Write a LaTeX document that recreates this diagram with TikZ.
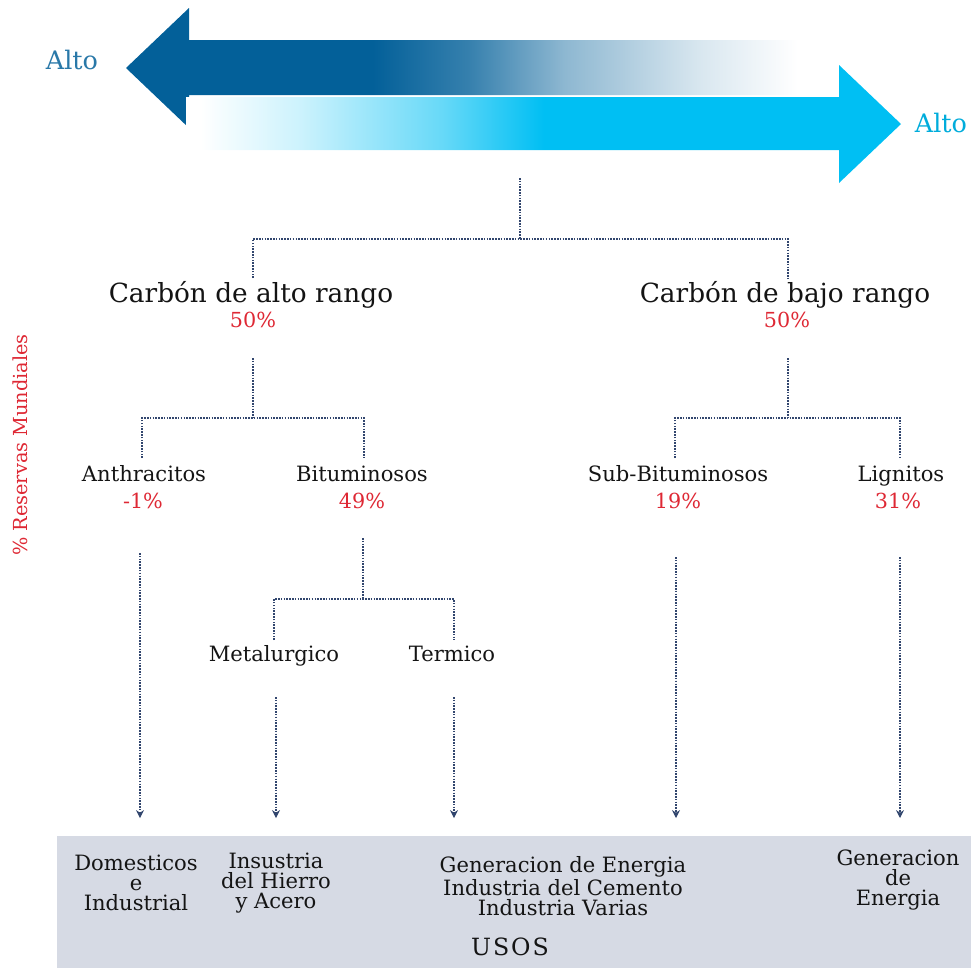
\documentclass[tikz,border=0pt]{standalone}
\usepackage{fontspec}
\setmainfont{DejaVu Serif}
\usetikzlibrary{arrows.meta}
\definecolor{dkb}{RGB}{3,96,153}
\definecolor{ltb}{RGB}{0,191,243}
\definecolor{redt}{RGB}{222,40,52}
\definecolor{lc}{RGB}{50,70,110}
\definecolor{boxc}{RGB}{214,218,228}
\definecolor{txt}{RGB}{20,20,20}
\colorlet{dkA}{dkb!80!white}
\colorlet{dkB}{dkb!45!white}
\colorlet{dkC}{dkb!15!white}
\colorlet{ltA}{ltb!20!white}
\colorlet{ltB}{ltb!60!white}
\pgfdeclarehorizontalshading{dkfade}{100bp}{color(0bp)=(dkb); color(25bp)=(dkb); color(43bp)=(dkb); color(50bp)=(dkA); color(57bp)=(dkB); color(67bp)=(dkC); color(74bp)=(white); color(100bp)=(white)}
\pgfdeclarehorizontalshading{ltfade}{100bp}{color(0bp)=(white); color(25bp)=(white); color(26bp)=(white); color(33bp)=(ltA); color(43bp)=(ltB); color(50bp)=(ltb); color(75bp)=(ltb); color(100bp)=(ltb)}
\begin{document}
\begin{tikzpicture}[x=0.02cm,y=-0.02cm,
  big/.style={inner sep=0pt,anchor=base,text=txt,font=\fontsize{15}{17}\selectfont},
  lab/.style={inner sep=0pt,anchor=base,text=txt,font=\fontsize{12}{14}\selectfont},
  pct/.style={inner sep=0pt,anchor=base,text=redt,font=\fontsize{11.8}{14}\selectfont},
  use/.style={inner sep=0pt,text=txt,align=center,font=\fontsize{12}{11.4}\selectfont},
  dl/.style={draw=lc,line width=0.6pt,dash pattern=on 0.9pt off 0.7pt},
  da/.style={dl,-{Stealth[length=4.5pt,width=4.5pt]}}]
\useasboundingbox (0,0) rectangle (971,968);
% arrows
\shade[shading=dkfade] (126,68) -- (189,8) -- (189,40) -- (811,40) -- (811,95) -- (189,95) -- (189,128) -- cycle;
\shade[shading=ltfade] (186,97) -- (839,97) -- (839,65) -- (901,124) -- (839,183) -- (839,150) -- (186,150) -- cycle;
\node[inner sep=0pt,text=dkb!85!white,font=\fontsize{14.5}{16}\selectfont] (altoL) at (72,60) {Alto};
\node[inner sep=0pt,text=ltb!90!black,font=\fontsize{14.5}{16}\selectfont] (altoR) at (941,123) {Alto};
% side label
\node[inner sep=0pt,text=redt,rotate=90,font=\fontsize{11}{13}\selectfont] (res) at (20,445) {\% Reservas Mundiales};
% level 1
\node[big] (high) at (251,302) {Carbón de alto rango};
\node[pct] (highp) at (253,327) {50\%};
\node[big] (low) at (785,302) {Carbón de bajo rango};
\node[pct] (lowp) at (787,327) {50\%};
\coordinate (t0) at (520,178);
\coordinate (t1) at (520,239);
\coordinate (hT) at (253,278);
\coordinate (lT) at (788,278);
\draw[dl] (t0) -- (t1);
\draw[dl] (hT) -- (hT|-t1) -- (lT|-t1) -- (lT);
% level 2
\node[lab] (anth) at (144,481) {Anthracitos};
\node[pct] (anthp) at (143,508) {-1\%};
\node[lab] (bit) at (362,481) {Bituminosos};
\node[pct] (bitp) at (362,508) {49\%};
\node[lab] (sub) at (678,481) {Sub-Bituminosos};
\node[pct] (subp) at (678,508) {19\%};
\node[lab] (lig) at (901,481) {Lignitos};
\node[pct] (ligp) at (898,508) {31\%};
\coordinate (h0) at (253,358);
\coordinate (h1) at (253,418);
\coordinate (aT) at (142,458);
\coordinate (bT) at (364,458);
\draw[dl] (h0) -- (h1);
\draw[dl] (aT) -- (aT|-h1) -- (bT|-h1) -- (bT);
\coordinate (l0) at (788,358);
\coordinate (l1) at (788,418);
\coordinate (sT) at (675,458);
\coordinate (gT) at (900,458);
\draw[dl] (l0) -- (l1);
\draw[dl] (sT) -- (sT|-l1) -- (gT|-l1) -- (gT);
% level 3
\node[lab] (met) at (274,661) {Metalurgico};
\node[lab] (ter) at (452,661) {Termico};
\coordinate (b0) at (363,538);
\coordinate (b1) at (363,599);
\coordinate (mT) at (274,640);
\coordinate (rT) at (454,640);
\draw[dl] (b0) -- (b1);
\draw[dl] (mT) -- (mT|-b1) -- (rT|-b1) -- (rT);
% usage box
\fill[boxc] (57,836) rectangle (971,968);
\node[use] (u1) at (136,883) {Domesticos\\e\\Industrial};
\node[use] (u2) at (276,883) {Insustria\\del Hierro\\y Acero};
\node[use] (u3) at (563,886) {Generacion de Energia\\Industria del Cemento\\Industria Varias};
\node[use] (u4) at (898,880) {Generacion\\de\\Energia};
\node[inner sep=0pt,text=txt,font=\fontsize{13.5}{15}\selectfont\addfontfeature{LetterSpace=8}] (usos) at (510,947) {USOS};
% down arrows
\coordinate (e1) at (140,818);
\coordinate (e2) at (276,818);
\coordinate (e3) at (454,818);
\coordinate (e4) at (676,818);
\coordinate (e5) at (900,818);
\draw[da] (140,553) -- (e1);
\draw[da] (276,697) -- (e2);
\draw[da] (454,697) -- (e3);
\draw[da] (676,557) -- (e4);
\draw[da] (900,557) -- (e5);
\end{tikzpicture}
\end{document}
